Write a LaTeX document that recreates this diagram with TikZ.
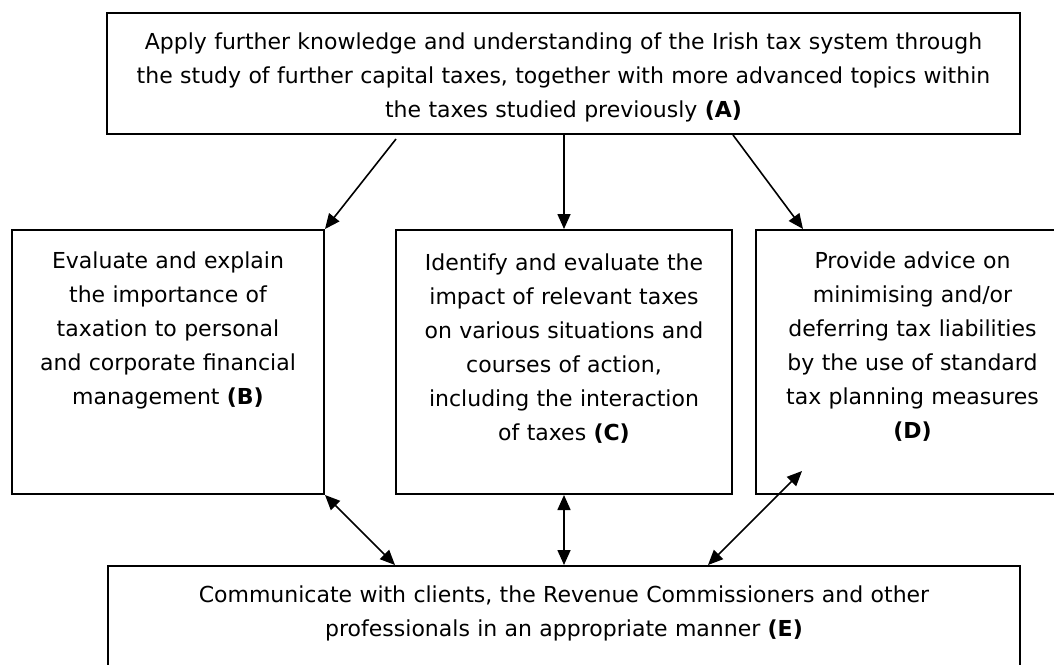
\documentclass[tikz,border=0pt]{standalone}
\usepackage{fontspec}
\setmainfont{DejaVu Sans}
\usetikzlibrary{arrows.meta, calc}

\begin{document}
\begin{tikzpicture}[x=1pt, y=-1pt,
	outcome/.style={draw, line width=2pt, anchor=north west, align=center, inner xsep=6pt, inner ysep=0pt, font=\fontsize{22}{34}\selectfont},
	link/.style={line width=1.6pt, >={Triangle[length=15pt,width=13pt]}}]
\useasboundingbox (0,0) rectangle (1054,664);

% Top box
\node[outcome, minimum width=913pt, text width=895pt, text height=36pt, text depth=85pt] (A) at (106,12)
	{Apply further knowledge and understanding of the Irish tax system through\\ the study of further capital taxes, together with more advanced topics within\\ the taxes studied previously \textbf{(A)}};

% Middle row
\node[outcome, minimum width=312pt, text width=296pt, text height=38pt, text depth=226pt] (B) at (11,229)
	{Evaluate and explain\\ the importance of\\ taxation to personal\\ and corporate financial\\ management \textbf{(B)}};
\node[outcome, minimum width=336pt, text width=320pt, text height=40pt, text depth=224pt] (C) at (395,229)
	{Identify and evaluate the\\ impact of relevant taxes\\ on various situations and\\ courses of action,\\ including the interaction\\ of taxes \textbf{(C)}};
\node[outcome, minimum width=313pt, text width=297pt, text height=38pt, text depth=226pt] (D) at (755,229)
	{Provide advice on\\ minimising and/or\\ deferring tax liabilities\\ by the use of standard\\ tax planning measures\\ \textbf{(D)}};

% Bottom box (runs off the lower edge)
\node[outcome, minimum width=912pt, text width=896pt, text height=36pt, text depth=110pt] (E) at (107,565)
	{Communicate with clients, the Revenue Commissioners and other\\ professionals in an appropriate manner \textbf{(E)}};

% Draw arrows from A
\draw[link, ->] ($(A.south west)+(290,4)$) -- (B.north east);
\draw[link, ->] (C.north |- A.south) -- (C.north);
\draw[link, ->] (C.north east |- A.south) -- ($(D.north west)+(48,0)$);

% Draw two-way arrows to E
\draw[link, <->] (B.south east) -- (C.south west |- E.north);
\draw[link, <->] (C.south) -- (C.south |- E.north);
\draw[link, <->] ($(D.south west)+(47,-24)$) -- ($(E.north)+(144,0)$);

\end{tikzpicture}
\end{document}
